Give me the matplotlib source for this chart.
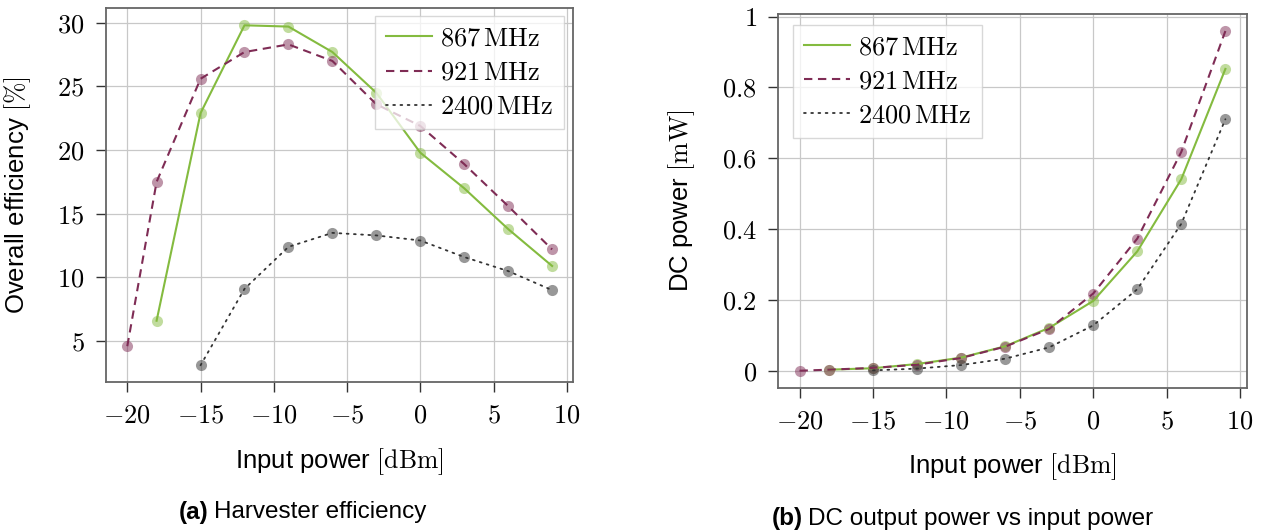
import matplotlib
matplotlib.use("Agg")
import matplotlib.pyplot as plt
from matplotlib.ticker import FuncFormatter, MultipleLocator

plt.rcParams['font.family'] = ['Liberation Sans', 'DejaVu Sans']
plt.rcParams['mathtext.fontset'] = 'cm'

# Input power sweep [dBm]
p_in = [-20, -18, -15, -12, -9, -6, -3, 0, 3, 6, 9]

# overall efficiency [%] (None = not measured)
eff_867 = [None, 6.6, 22.9, 29.8, 29.7, 27.7, 24.5, 19.8, 17.0, 13.8, 10.9]
eff_921 = [4.6, 17.5, 25.6, 27.7, 28.3, 27.0, 23.6, 21.9, 18.9, 15.6, 12.2]
eff_2400 = [None, None, 3.1, 9.1, 12.4, 13.5, 13.3, 12.9, 11.6, 10.5, 9.0]

# DC output power [mW]
dc_867 = [None, 0.003, 0.007, 0.019, 0.037, 0.069, 0.121, 0.197, 0.337, 0.541, 0.852]
dc_921 = [0.0, 0.003, 0.008, 0.017, 0.036, 0.068, 0.118, 0.218, 0.373, 0.618, 0.959]
dc_2400 = [None, None, 0.001, 0.006, 0.016, 0.034, 0.066, 0.128, 0.230, 0.415, 0.710]

labels = ['$867\\,\\mathrm{MHz}$', '$921\\,\\mathrm{MHz}$', '$2400\\,\\mathrm{MHz}$']
colors = ['#84bb3f', '#7f2c55', '#333333']
styles = ['-', (0, (4, 2.7)), (0, (1, 3))]
widths = [1.5, 1.5, 1.3]


def clean(xs, ys):
    pairs = [(x, y) for x, y in zip(xs, ys) if y is not None]
    return [p[0] for p in pairs], [p[1] for p in pairs]


def draw(ax, series, yticks, ylabel, legend_loc, legend_anchor):
    for ys, lab, c, ls, lw in zip(series, labels, colors, styles, widths):
        xs, vals = clean(p_in, ys)
        ax.plot(xs, vals, ls='none', marker='o', ms=8, mec='none', mfc=c, alpha=0.5, zorder=3)
        ax.plot(xs, vals, ls=ls, color=c, lw=lw, label=lab, zorder=4,
                dash_capstyle='round' if lab.startswith('$2400') else 'butt')
    ax.margins(x=0.05, y=0.05)
    ax.xaxis.set_major_locator(MultipleLocator(5))
    ax.set_yticks(yticks)
    fmt = FuncFormatter(lambda v, p: f"${v:g}$")
    ax.xaxis.set_major_formatter(fmt)
    ax.yaxis.set_major_formatter(fmt)
    ax.tick_params(direction='out', length=7.5, width=1.0, color='#333333',
                   labelsize=19, pad=8)
    ax.grid(True, color='#c8c8c8', lw=0.9)
    ax.set_axisbelow(True)
    for s in ax.spines.values():
        s.set_color('#666666')
        s.set_linewidth(1.3)
    ax.set_xlabel('Input power $[\\mathrm{dBm}]$', fontsize=18.5)
    ax.set_ylabel(ylabel, fontsize=18.5)
    leg = ax.legend(loc=legend_loc, bbox_to_anchor=legend_anchor, borderaxespad=0,
                    fontsize=19, fancybox=False, framealpha=0.75, edgecolor='#cccccc',
                    handlelength=1.75, handletextpad=0.3, labelspacing=0.38, borderpad=0.4)
    leg.get_frame().set_linewidth(1.0)


fig = plt.figure(figsize=(12.64, 5.32), dpi=100)
ax1 = fig.add_axes([0.0839, 0.2814, 0.3697, 0.703])
ax2 = fig.add_axes([0.6157, 0.2712, 0.3706, 0.7024])

draw(ax1, [eff_867, eff_921, eff_2400], [5, 10, 15, 20, 25, 30],
     'Overall efficiency $[\\%]$', 'upper right', (0.979, 0.979))
draw(ax2, [dc_867, dc_921, dc_2400], [0, 0.2, 0.4, 0.6, 0.8, 1],
     'DC power $[\\mathrm{mW}]$', 'upper left', (0.032, 0.971))

ax1.yaxis.set_label_coords(-0.156, 0.5)
ax2.yaxis.set_label_coords(-0.174, 0.5)
ax1.xaxis.set_label_coords(0.5, -0.17)
ax2.xaxis.set_label_coords(0.5, -0.17)

fig.text(209 / 1264, 1 - 512 / 532, '(a)', fontsize=17.5, fontweight='bold', ha='right', va='center')
fig.text(214 / 1264, 1 - 512 / 532, 'Harvester efficiency', fontsize=17.5, ha='left', va='center')
fig.text(803 / 1264, 1 - 519 / 532, '(b)', fontsize=17.5, fontweight='bold', ha='right', va='center')
fig.text(808 / 1264, 1 - 519 / 532, 'DC output power vs input power', fontsize=17.5, ha='left', va='center')

fig.savefig('out.png', dpi=100)
